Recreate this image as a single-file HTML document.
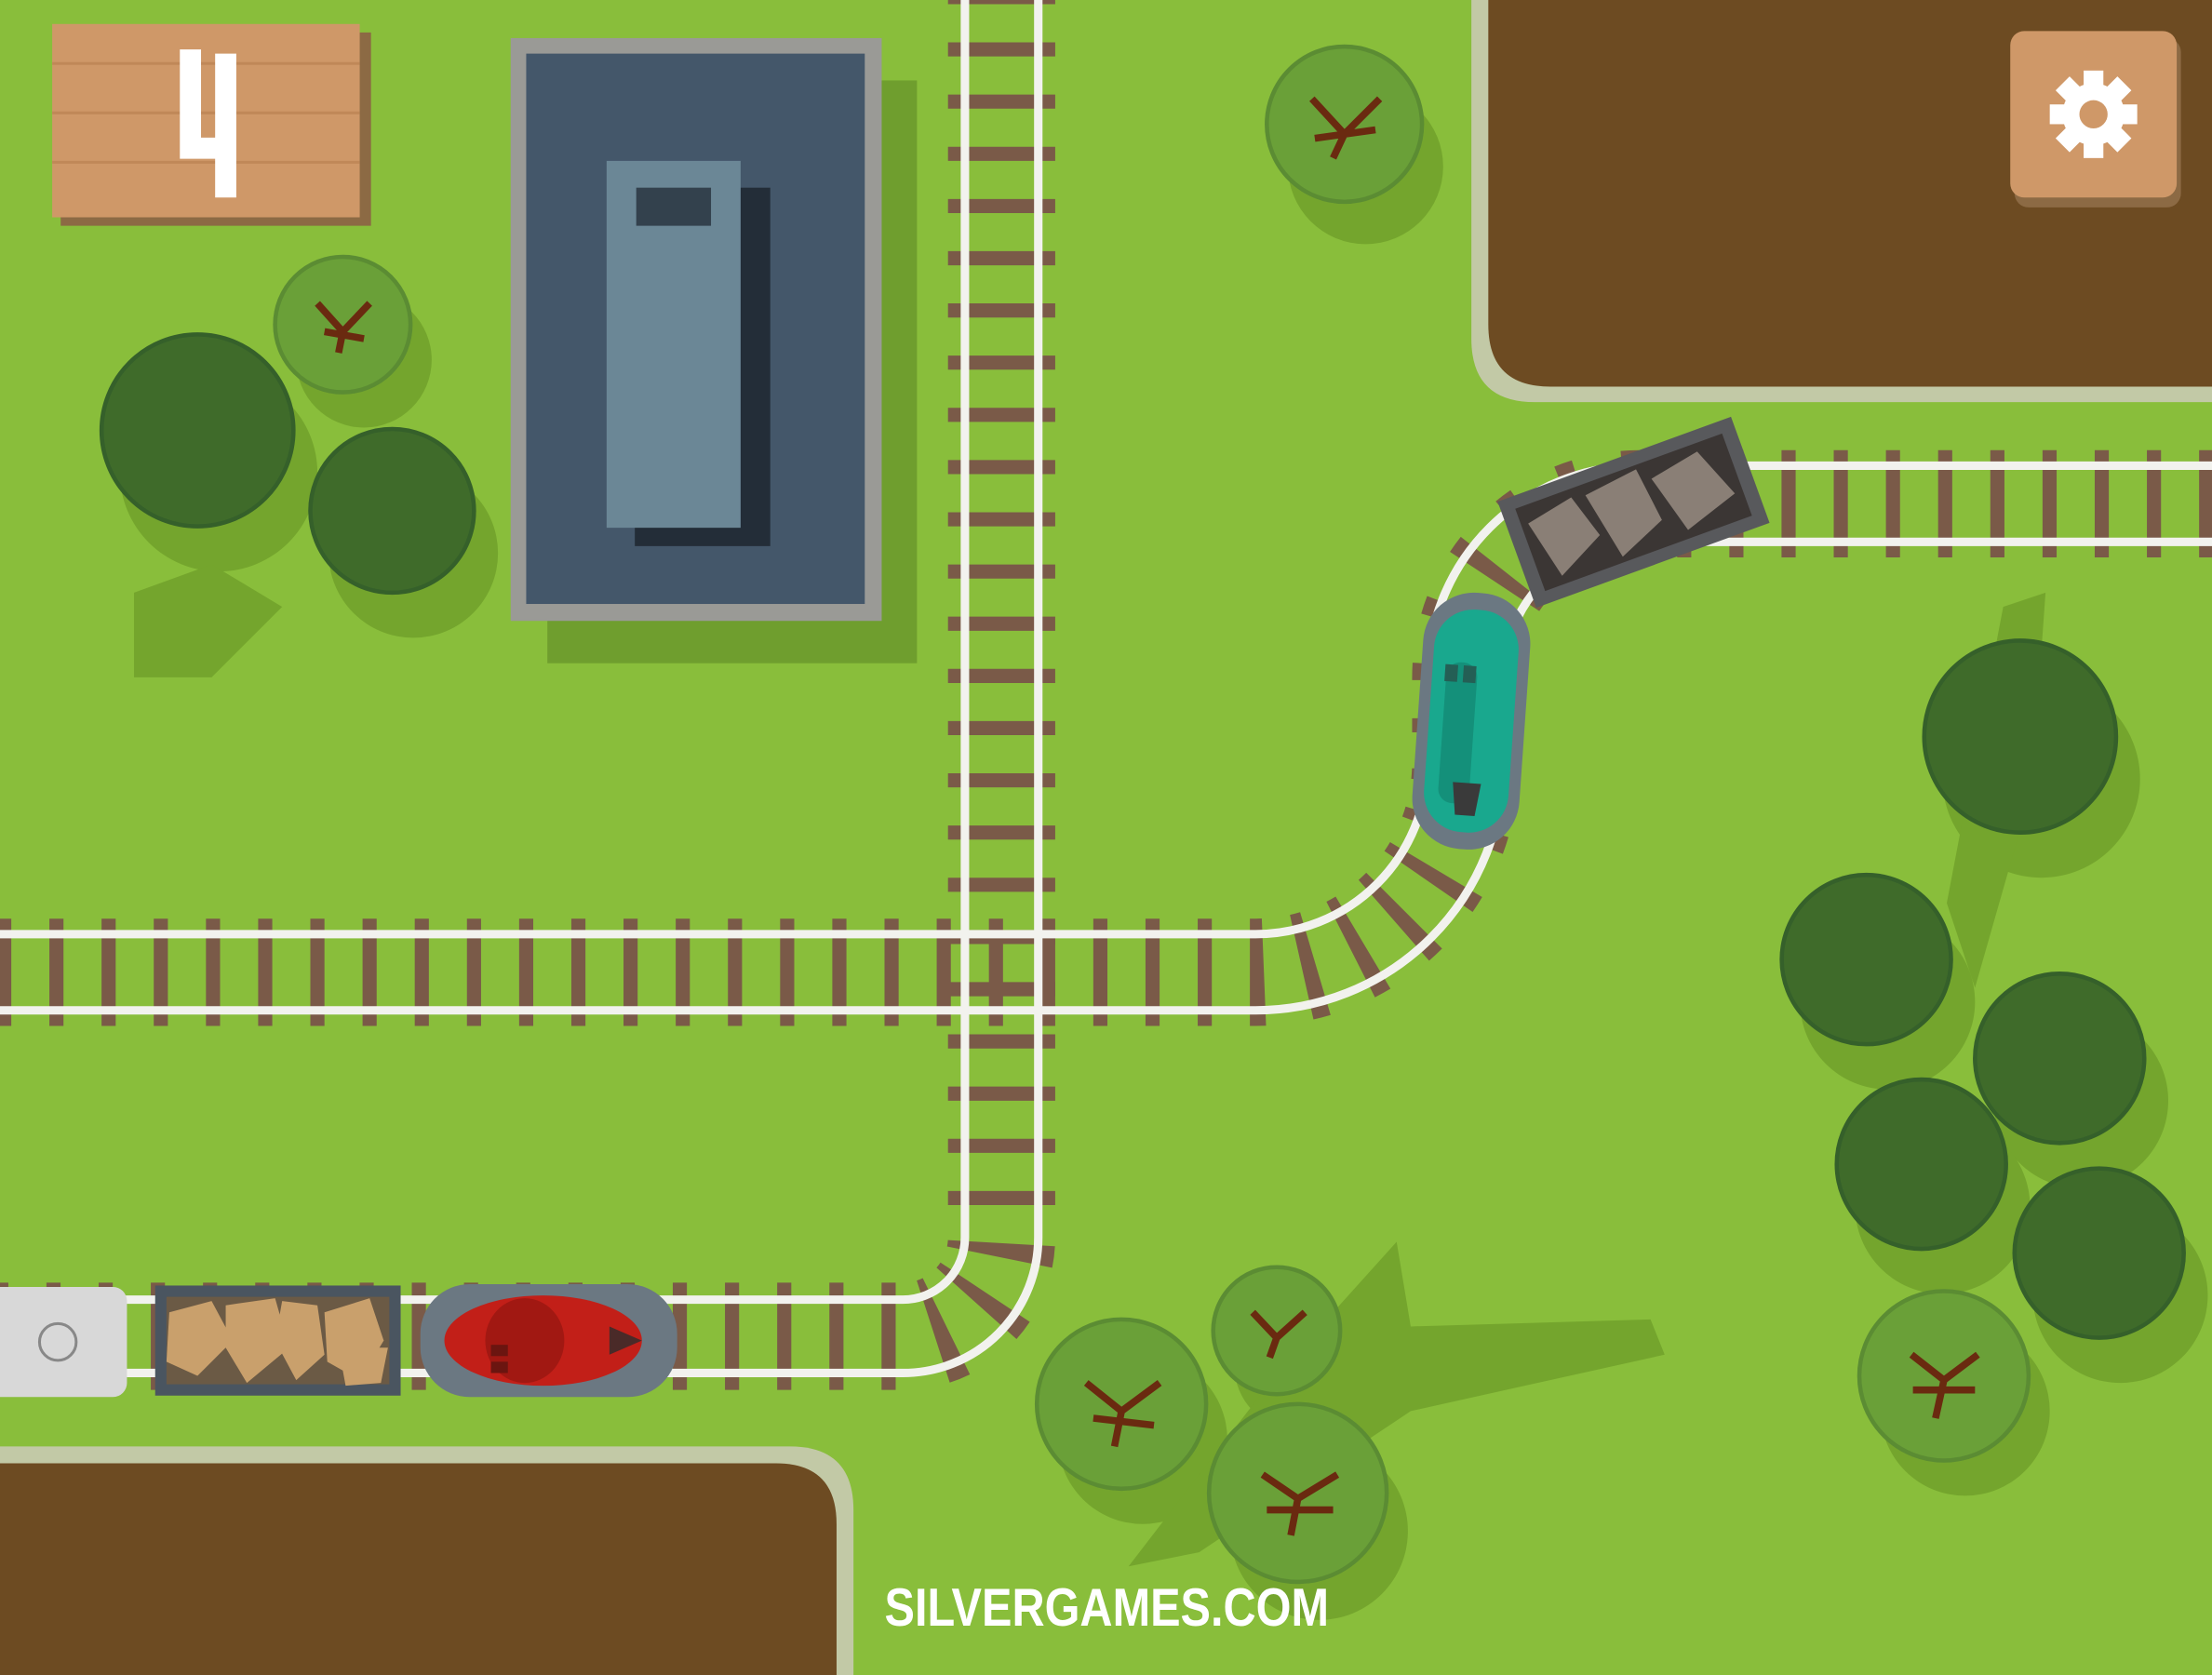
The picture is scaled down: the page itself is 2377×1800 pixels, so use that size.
<!DOCTYPE html>
<html><head><meta charset="utf-8"><style>html,body{margin:0;padding:0;background:#88bd3a}svg{display:block}</style></head>
<body>
<svg width="2377" height="1800" viewBox="0 0 1568 1187" preserveAspectRatio="none" xmlns="http://www.w3.org/2000/svg">
<rect width="1568" height="1187" fill="#89be3b"/>
<path d="M1043 -10 V240 Q1043 285 1088 285 H1580 V-10Z" fill="#c2c9a6"/>
<path d="M1055 -10 V230 Q1055 274 1099 274 H1580 V-10Z" fill="#6d4b22"/>
<path d="M-10 1025 H560 Q605 1025 605 1070 V1200 H-10Z" fill="#c2c9a6"/>
<path d="M-10 1037 H550 Q593 1037 593 1080 V1200 H-10Z" fill="#6d4b22"/>
<rect x="388" y="57" width="262" height="413" fill="#6f9e2e"/>
<rect x="362" y="27" width="263" height="413" fill="#9a9a96"/>
<rect x="373" y="38" width="240" height="390" fill="#44576a"/>
<rect x="450" y="133" width="96" height="254" fill="#232d38"/>
<rect x="430" y="114" width="95" height="260" fill="#6b8796"/>
<rect x="451" y="133" width="53" height="27" fill="#33414d"/>
<g fill="#74a52d">
<circle cx="258" cy="255" r="48"/><circle cx="968" cy="118" r="55"/><circle cx="920" cy="968" r="45"/>
<circle cx="810" cy="1020" r="60"/><circle cx="935" cy="1085" r="63"/><circle cx="1393" cy="1000" r="60"/>
<circle cx="155" cy="335" r="70"/><circle cx="293" cy="392" r="60"/><circle cx="1447" cy="552" r="70"/>
<circle cx="1338" cy="710" r="62"/><circle cx="1475" cy="780" r="62"/><circle cx="1377" cy="855" r="62"/><circle cx="1503" cy="918" r="62"/>
<path d="M95 420 L150 400 L200 430 L150 480 L95 480Z"/>
<path d="M1420 430 L1450 420 L1440 560 L1400 700 L1380 640Z"/>
<path d="M990 880 L1000 940 L1170 935 L1180 960 L1000 1000 L850 1100 L800 1110 L900 980Z"/>
</g>
<g fill="none" stroke="#7a5a48" stroke-width="76" stroke-dasharray="10 27" stroke-dashoffset="-3">
<path d="M710 -10 V877 A70 70 0 0 1 640 947 H-10"/>
<path d="M-5 689 H890 A149 149 0 0 0 1039 540 V480 A123 123 0 0 1 1162 357 H1580"/>
</g>
<g fill="none" stroke="#f2f2ee" stroke-width="6">
<path d="M684 -10 V877 A44 44 0 0 1 640 921 H-10"/>
<path d="M736 -10 V877 A96 96 0 0 1 640 973 H-10"/>
<path d="M-10 662 H890 A122 122 0 0 0 1012 540 V480 A150 150 0 0 1 1162 330 H1580"/>
<path d="M-10 716 H890 A176 176 0 0 0 1066 540 V480 A96 96 0 0 1 1162 384 H1580"/>
</g>
<rect x="-20" y="912" width="110" height="78" rx="10" fill="#d8d8d8"/>
<circle cx="41" cy="951" r="13" fill="none" stroke="#888" stroke-width="2"/>
<rect x="110" y="911" width="174" height="78" fill="#4a5560"/>
<rect x="118" y="919" width="158" height="62" fill="#6b5a45"/>
<g fill="#c9a06c"><polygon points="120,930 150,922 165,950 140,975 118,965"/><polygon points="160,925 195,920 205,955 175,980 160,955"/><polygon points="200,922 225,925 230,960 210,978 195,950"/><polygon points="230,930 262,920 272,950 255,978 232,965"/><polygon points="240,955 275,955 270,980 245,982"/></g>
<rect x="298" y="910" width="182" height="80" rx="35" fill="#6b7882"/>
<ellipse cx="385" cy="950" rx="70" ry="32" fill="#c21f18"/>
<ellipse cx="372" cy="950" rx="28" ry="30" fill="#a11812"/>
<rect x="348" y="953" width="12" height="8" fill="#6b1510"/><rect x="348" y="965" width="12" height="8" fill="#6b1510"/>
<polygon points="432,940 455,950 432,960" fill="#4a2a28"/>
<g transform="rotate(4 1043 510)">
<rect x="1005" y="420" width="76" height="182" rx="36" fill="#6b7882"/>
<rect x="1013" y="432" width="60" height="158" rx="28" fill="#19a88e"/>
<rect x="1023" y="470" width="22" height="100" rx="10" fill="#14907a"/>
<rect x="1022" y="472" width="9" height="12" fill="#245f55"/><rect x="1035" y="472" width="9" height="12" fill="#245f55"/>
<polygon points="1033,555 1053,555 1050,578 1036,578" fill="#3a3a3a"/>
</g>
<g transform="rotate(-20 1158 363)">
<rect x="1070" y="323" width="176" height="80" fill="#58595c"/>
<rect x="1080" y="332" width="156" height="62" fill="#3b3634"/>
<g fill="#8a7f76"><polygon points="1085,345 1120,338 1130,370 1095,388"/><polygon points="1130,340 1170,335 1175,375 1140,390"/><polygon points="1178,345 1215,338 1230,375 1190,388"/></g>
</g>
<g fill="#3f6b2a" stroke="#35602a" stroke-width="3">
<circle cx="140" cy="305" r="68"/><circle cx="278" cy="362" r="58"/><circle cx="1432" cy="522" r="68"/>
<circle cx="1323" cy="680" r="60"/><circle cx="1460" cy="750" r="60"/><circle cx="1362" cy="825" r="60"/><circle cx="1488" cy="888" r="60"/>
</g>
<g fill="#6aa038" stroke="#5b8c33" stroke-width="3">
<circle cx="243" cy="230" r="48"/><circle cx="953" cy="88" r="55"/><circle cx="905" cy="943" r="45"/>
<circle cx="795" cy="995" r="60"/><circle cx="920" cy="1058" r="63"/><circle cx="1378" cy="975" r="60"/>
</g>
<g stroke="#6a2a10" stroke-width="5" fill="none">
<path d="M225 215 L243 235 L262 215 M243 235 L240 250 M230 235 L258 240"/>
<path d="M930 70 L953 95 L978 70 M953 95 L945 112 M932 98 L975 92"/>
<path d="M888 930 L905 948 L925 930 M905 948 L900 962"/>
<path d="M770 980 L795 1000 L822 980 M795 1000 L790 1025 M775 1005 L818 1010"/>
<path d="M895 1045 L920 1062 L948 1045 M920 1062 L915 1088 M898 1070 L945 1070"/>
<path d="M1355 960 L1378 978 L1402 960 M1378 978 L1372 1005 M1356 985 L1400 985"/>
</g>
<rect x="43" y="23" width="220" height="137" fill="#8c6a44"/>
<rect x="37" y="17" width="218" height="137" fill="#cf9868"/>
<g stroke="#c08858" stroke-width="2"><line x1="37" y1="45" x2="255" y2="45"/><line x1="37" y1="80" x2="255" y2="80"/><line x1="37" y1="115" x2="255" y2="115"/></g>
<path d="M135 35 V105 H165 M160 38 V140" fill="none" stroke="#fff" stroke-width="15"/>
<rect x="1428" y="27" width="118" height="120" rx="10" fill="#8c6a44"/>
<rect x="1425" y="22" width="118" height="118" rx="10" fill="#cf9868"/>
<g transform="translate(1484 81)" fill="#fff">
<circle r="22"/>
<g><rect x="-7" y="-31" width="14" height="62"/><rect x="-7" y="-31" width="14" height="62" transform="rotate(45)"/><rect x="-7" y="-31" width="14" height="62" transform="rotate(90)"/><rect x="-7" y="-31" width="14" height="62" transform="rotate(135)"/></g>
<circle r="10" fill="#cf9868"/>
</g>
<text x="627" y="1152" textLength="315" lengthAdjust="spacingAndGlyphs" font-family="Liberation Sans, sans-serif" font-weight="bold" font-size="38" fill="#fff">SILVERGAMES.COM</text>
</svg>
</body></html>
